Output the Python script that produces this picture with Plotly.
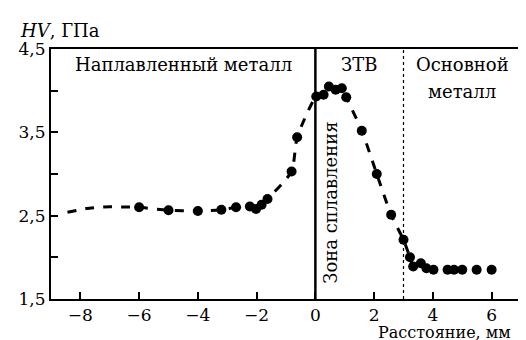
import plotly.graph_objects as go

# measured hardness points
x_pts = [-6.0, -5.0, -4.0, -3.2, -2.7, -2.23, -2.02, -1.83, -1.63, -0.81, -0.62,
         0.03, 0.28, 0.46, 0.69, 0.90, 1.05, 1.58, 2.09, 2.58, 3.0, 3.22, 3.33,
         3.59, 3.78, 4.02, 4.5, 4.72, 5.0, 5.49, 6.0]
y_pts = [2.60, 2.565, 2.556, 2.57, 2.60, 2.61, 2.58, 2.63, 2.70, 3.03, 3.44,
         3.93, 3.95, 4.05, 4.01, 4.03, 3.92, 3.52, 3.0, 2.51, 2.21, 2.0, 1.89,
         1.93, 1.87, 1.85, 1.85, 1.85, 1.85, 1.85, 1.85]

# dashed trend curve (extends left of the measured points)
x_line = [-8.44, -7.8, -7.2, -6.6, -6.0, -5.0, -4.0, -3.2, -2.7, -2.23, -2.02, -1.83,
          -1.63, -0.81, -0.62, 0.03, 0.28, 0.46, 0.69, 0.90, 1.05, 1.58, 2.09,
          2.58, 3.0, 3.22, 3.33, 3.59, 3.78]
y_line = [2.54, 2.585, 2.605, 2.605, 2.60, 2.565, 2.556, 2.57, 2.60, 2.61, 2.58, 2.63,
          2.70, 3.03, 3.44, 3.93, 3.95, 4.05, 4.01, 4.03, 3.92, 3.52, 3.0,
          2.51, 2.21, 2.0, 1.89, 1.93, 1.87]

y_ticks = [1.5, 2.0, 2.5, 3.0, 3.5, 4.0, 4.5]
y_ticktext = ["1,5", "", "2,5", "", "3,5", "", "4,5"]
x_ticks = [-8, -6, -4, -2, 0, 2, 4, 6]
x_ticktext = ["\u22128", "\u22126", "\u22124", "\u22122", "0", "2", "4", "6"]

FONT = "DejaVu Serif"

fig = go.Figure()
fig.add_trace(go.Scatter(x=x_line, y=y_line, mode="lines",
                         line=dict(color="black", width=3, dash="dash", shape="spline", smoothing=0.6),
                         hoverinfo="skip", showlegend=False))
fig.add_trace(go.Scatter(x=x_pts, y=y_pts, mode="markers",
                         marker=dict(color="black", size=10),
                         showlegend=False))

# fusion line and HAZ boundary
fig.add_shape(type="line", x0=0, x1=0, y0=1.5, y1=4.5, xref="x", yref="y",
              line=dict(color="black", width=2.5))
fig.add_shape(type="line", x0=3.0, x1=3.0, y0=1.5, y1=4.5, xref="x", yref="y",
              line=dict(color="black", width=1.2, dash="dot"))

tf = dict(family=FONT, size=18, color="black")
tk = dict(family=FONT, size=17, color="black")
fig.add_annotation(x=-4.5, y=4.31, text="Наплавленный металл", showarrow=False, font=tf)
fig.add_annotation(x=1.5, y=4.31, text="ЗТВ", showarrow=False, font=tf)
fig.add_annotation(x=5.0, y=4.31, text="Основной", showarrow=False, font=tf)
fig.add_annotation(x=5.0, y=3.99, text="металл", showarrow=False, font=tf)
fig.add_annotation(x=0.52, y=2.65, text="Зона сплавления", showarrow=False, textangle=-90, font=tf)
fig.add_annotation(xref="paper", yref="paper", x=0, y=1.0, xshift=-33, yshift=19, xanchor="left",
                   yanchor="middle", text="<i>HV</i>, ГПа", showarrow=False, font=tf)
fig.add_annotation(xref="paper", yref="paper", x=1.0, y=0, xshift=-8, yshift=-33, xanchor="right",
                   yanchor="middle", text="Расстояние, мм", showarrow=False,
                   font=dict(family=FONT, size=16, color="black"))

fig.update_xaxes(range=[-9, 7], tickvals=x_ticks, ticktext=x_ticktext,
                 ticks="inside", ticklen=7, tickwidth=1.5, tickcolor="black",
                 showline=True, linecolor="black", linewidth=2, mirror=True,
                 showgrid=False, zeroline=False, tickfont=tk)
fig.update_yaxes(range=[1.5, 4.5], tickvals=y_ticks, ticktext=y_ticktext,
                 ticks="inside", ticklen=7, tickwidth=1.5, tickcolor="black",
                 showline=True, linecolor="black", linewidth=2, mirror=True,
                 showgrid=False, zeroline=False, tickfont=tk)

fig.update_layout(width=526, height=340, margin=dict(l=43, r=11, t=41, b=49),
                  plot_bgcolor="white", paper_bgcolor="white", font=tf)
fig.write_html("out.html")
